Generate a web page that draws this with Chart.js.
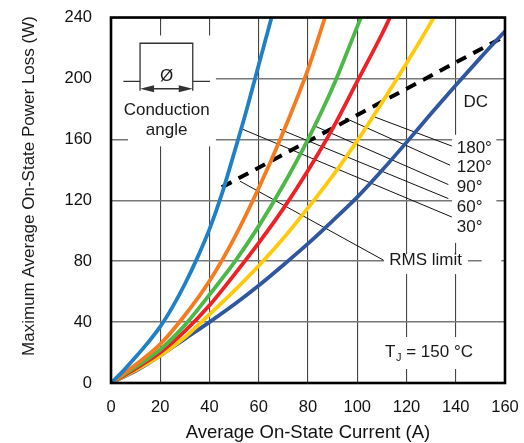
<!DOCTYPE html>
<html>
<head>
<meta charset="utf-8">
<script src="https://cdn.jsdelivr.net/npm/chart.js@4.4.1/dist/chart.umd.min.js"></script>
<style>
  html, body { margin: 0; padding: 0; background: #fff; }
  #wrap { width: 524px; height: 443px; position: relative; }
</style>
</head>
<body>
<div id="wrap"><canvas id="chart"></canvas></div>
<script>
// axis ticks
const currentTicks = [0, 20, 40, 60, 80, 100, 120, 140, 160];
const powerTicks = [0, 40, 80, 120, 160, 200, 240];

// [average current A, power loss W]
const angle30 = [[0,0],[5,8],[10,17],[15,26.5],[20,37],[25,50],[30,65],[35,82],[40,101],[45,124],[50,151],[55,179],[60,209],[65.2,240]];
const angle60 = [[0,0],[10,12],[20,25.5],[30,44.5],[40,67],[50,95],[60,128],[70,165],[80,206],[86.9,240]];
const angle90 = [[0,0],[10,10.5],[20,22],[30,38],[40,58],[50,79],[60,103],[70,130],[80,160],[90,194],[100,234],[101.5,240]];
const angle120 = [[0,0],[10,9.5],[20,20],[30,34],[40,51],[50,71],[60,92],[70,114.5],[80,139.5],[90,167],[100,198],[110,229],[113.3,240]];
const angle180 = [[0,0],[10,8.5],[20,18],[30,30],[40,45],[50,60.5],[60,77],[70,95],[80,115],[90,136],[100,159],[110,184],[120,210],[130,237],[131,240]];
const dcCurve = [[0,0],[10,8],[20,18],[30,29],[40,40],[50,51.5],[60,64],[70,77.5],[80,91.5],[90,106.5],[100,122],[110,139.5],[120,158],[130,177],[140,195.5],[150,213.5],[160,231]];
const rmsLimit = [[45,128.5],[158,226]];

// leader lines: from near the curve to the label
const leaders = [
  [[107.2,174.6],[138.4,155.6]],
  [[95.0,174.0],[137.7,143.0]],
  [[82.8,168.7],[137.0,130.3]],
  [[68.6,166.6],[137.0,121.1]],
  [[53.5,166.6],[138.4,109.0]],
  [[52.4,132.5],[110.6,80.7]]
];

// labels: text, anchor [A, W], align
const notes = [
  ['DC', [143.1,184.5], 'left'],
  ['180°', [140.4,154.4], 'left'],
  ['120°', [140.4,141.3], 'left'],
  ['90°', [140.4,128.3], 'left'],
  ['60°', [140.4,115.2], 'left'],
  ['30°', [140.4,102.5], 'left'],
  ['RMS limit', [113.0,80.7], 'left'],
  ['Conduction', [22.6,179], 'center'],
  ['angle', [22.6,165.9], 'center'],
  ['Ø', [22.6,201.3], 'center']
];
// white patches that break the grid behind the labels [A0, A1, W0, W1]
const patches = [
  [0.4,42.6,228.2,173.1],
  [6.9,42.6,175.7,155.4],
  [141.7,153.9,190.8,177.7],
  [138.5,156.5,163,92],
  [110.9,145,84.6,71.5],
  [150.5,158.5,83,78],
  [109.2,149,30.2,9.2]
];
// conduction angle pulse symbol
const pulse = [[5,198],[11.8,198],[11.8,223.1],[33.2,223.1],[33.2,198],[40.2,198]];
const pulseArrow = [[11.8,193.2],[33.2,193.2]];

const FONT = "'Liberation Sans', Arial, sans-serif";
const xy = pts => pts.map(p => ({ x: p[0], y: p[1] }));

const curves = [
  { data: angle30, color: '#1f80c6' },
  { data: angle60, color: '#f47b20' },
  { data: angle90, color: '#4cb848' },
  { data: angle120, color: '#ec2227' },
  { data: angle180, color: '#ffc90e' },
  { data: dcCurve, color: '#2e57a0' }
];

const datasets = [];
curves.forEach(c => {
  datasets.push({
    data: xy(c.data),
    borderColor: c.color,
    borderWidth: 3.8,
    pointRadius: 0,
    fill: false,
    cubicInterpolationMode: 'monotone'
  });
});
datasets.push({
  data: xy(rmsLimit),
  borderColor: '#000',
  borderWidth: 4,
  borderDash: [11, 8],
  pointRadius: 0,
  fill: false,
  tension: 0
});
leaders.forEach(l => {
  datasets.push({
    data: xy(l),
    borderColor: '#111',
    borderWidth: 1,
    pointRadius: 0,
    fill: false,
    tension: 0
  });
});

const notesPlugin = {
  id: 'notes',
  beforeDatasetsDraw(chart) {
    const ctx = chart.ctx, sx = chart.scales.x, sy = chart.scales.y;
    ctx.save();
    ctx.fillStyle = '#fff';
    patches.forEach(p => {
      const x0 = sx.getPixelForValue(p[0]), x1 = sx.getPixelForValue(p[1]);
      const y0 = sy.getPixelForValue(p[2]), y1 = sy.getPixelForValue(p[3]);
      ctx.fillRect(x0, y0, x1 - x0, y1 - y0);
    });
    ctx.restore();
  },
  afterDatasetsDraw(chart) {
    const ctx = chart.ctx, sx = chart.scales.x, sy = chart.scales.y;
    const px = p => [sx.getPixelForValue(p[0]), sy.getPixelForValue(p[1])];
    ctx.save();

    // pulse symbol
    ctx.strokeStyle = '#333';
    ctx.lineWidth = 1.3;
    ctx.beginPath();
    let q = px(pulse[0]); ctx.moveTo(q[0], q[1]);
    q = px(pulse[1]); ctx.lineTo(q[0], q[1]);
    ctx.moveTo(q[0], px(pulseArrow[0])[1] + 2);
    q = px(pulse[2]); ctx.lineTo(q[0], q[1]);
    q = px(pulse[3]); ctx.lineTo(q[0], q[1]);
    ctx.lineTo(q[0], px(pulseArrow[1])[1] + 2);
    q = px(pulse[4]); ctx.moveTo(q[0], q[1]);
    q = px(pulse[5]); ctx.lineTo(q[0], q[1]);
    ctx.stroke();
    const a0 = px(pulseArrow[0]), a1 = px(pulseArrow[1]);
    ctx.beginPath();
    ctx.moveTo(a0[0] + 6, a0[1]); ctx.lineTo(a1[0] - 6, a1[1]);
    ctx.stroke();
    ctx.fillStyle = '#333';
    ctx.beginPath();
    ctx.moveTo(a0[0], a0[1]); ctx.lineTo(a0[0] + 14, a0[1] - 3.5); ctx.lineTo(a0[0] + 14, a0[1] + 3.5); ctx.closePath();
    ctx.moveTo(a1[0], a1[1]); ctx.lineTo(a1[0] - 14, a1[1] - 3.5); ctx.lineTo(a1[0] - 14, a1[1] + 3.5); ctx.closePath();
    ctx.fill();

    // labels
    ctx.fillStyle = '#1a1a1a';
    ctx.textBaseline = 'middle';
    ctx.font = '17px ' + FONT;
    notes.forEach(n => {
      const p = px(n[1]);
      ctx.textAlign = n[2];
      ctx.fillText(n[0], p[0], p[1]);
    });

    // T_J = 150 °C
    const t = px([111.3, 20]);
    ctx.textAlign = 'left';
    ctx.fillText('T', t[0], t[1]);
    let w = ctx.measureText('T').width;
    ctx.font = '11px ' + FONT;
    ctx.fillText('J', t[0] + w + 0.5, t[1] + 5);
    w += ctx.measureText('J').width + 0.5;
    ctx.font = '17px ' + FONT;
    ctx.fillText(' = 150 °C', t[0] + w, t[1]);

    // y axis title
    ctx.save();
    ctx.translate(29, 186);
    ctx.rotate(-Math.PI / 2);
    ctx.textAlign = 'center';
    ctx.fillText('Maximum Average On-State Power Loss (W)', 0, 0);
    ctx.restore();

    // frame
    const a = chart.chartArea;
    ctx.strokeStyle = '#000';
    ctx.lineWidth = 2.6;
    ctx.strokeRect(a.left, a.top, a.right - a.left, a.bottom - a.top);
    ctx.restore();
  }
};

new Chart(document.getElementById('chart'), {
  type: 'line',
  data: { datasets: datasets },
  plugins: [notesPlugin],
  options: {
    responsive: true,
    maintainAspectRatio: false,
    animation: false,
    devicePixelRatio: 1,
    layout: { padding: { left: 0, top: 17.5, right: 19, bottom: 0 } },
    plugins: { legend: { display: false }, tooltip: { enabled: false } },
    scales: {
      x: {
        type: 'linear',
        min: currentTicks[0],
        max: currentTicks[currentTicks.length - 1],
        afterBuildTicks: s => { s.ticks = currentTicks.map(v => ({ value: v })); },
        afterFit: s => { s.height = 60; s.paddingLeft = 0; s.paddingRight = 0; },
        border: { display: false },
        grid: { color: '#444', lineWidth: 1.1, drawTicks: false },
        ticks: { color: '#111', padding: 14.5, font: { family: FONT, size: 16.5 } },
        title: { display: true, text: 'Average On-State Current (A)', color: '#111', padding: { top: 0, bottom: -1 }, font: { family: FONT, size: 18.5 } }
      },
      y: {
        type: 'linear',
        min: powerTicks[0],
        max: powerTicks[powerTicks.length - 1],
        afterBuildTicks: s => { s.ticks = powerTicks.map(v => ({ value: v })); },
        afterFit: s => { s.width = 111; s.paddingTop = 0; s.paddingBottom = 0; },
        border: { display: false },
        grid: { color: '#777', lineWidth: 1.5, drawTicks: false },
        ticks: { color: '#111', padding: 19, font: { family: FONT, size: 16.5 } }
      }
    }
  }
});
</script>
</body>
</html>
